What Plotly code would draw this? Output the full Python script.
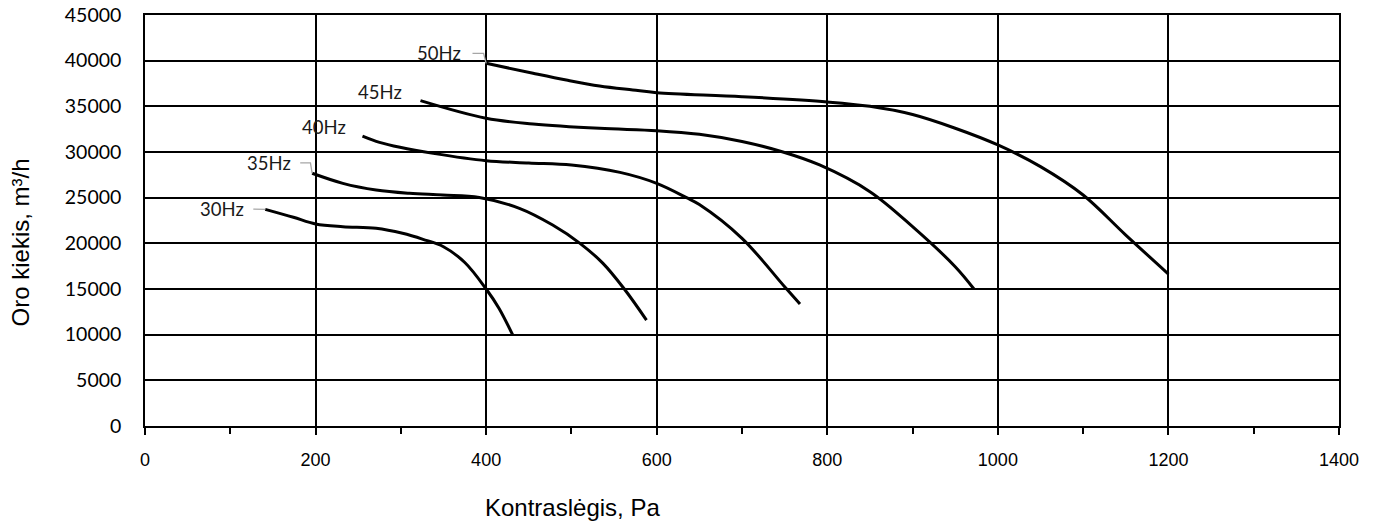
import plotly.graph_objects as go

# Data
hz30_x = [141, 174, 200, 232, 271, 302, 326, 350, 375, 400, 415, 431]
hz30_y = [23720, 22850, 22120, 21820, 21650, 21100, 20440, 19630, 17900, 15000, 12900, 10000]

hz35_x = [196, 232, 271, 310, 349, 392, 439, 478, 510, 537, 562, 588]
hz35_y = [27670, 26570, 25840, 25480, 25290, 25020, 23830, 22000, 20000, 17810, 15000, 11600]

hz40_x = [255, 275, 299, 338, 400, 450, 500, 557, 600, 635, 650, 700, 750, 768]
hz40_y = [31750, 31060, 30510, 29850, 29050, 28800, 28580, 27770, 26570, 25000, 24250, 20550, 15250, 13360]

hz45_x = [323, 400, 455, 533, 600, 650, 700, 748, 791, 850, 900, 950, 972]
hz45_y = [35620, 33690, 33070, 32590, 32340, 31940, 31150, 30000, 28580, 25660, 21830, 17440, 15000]

hz50_x = [400, 455, 494, 533, 572, 600, 700, 800, 850, 900, 950, 1000, 1050, 1100, 1150, 1200]
hz50_y = [39710, 38620, 37880, 37230, 36790, 36500, 36060, 35480, 35000, 34100, 32600, 30770, 28400, 25290, 20900, 16640]

series_names = ["30Hz", "35Hz", "40Hz", "45Hz", "50Hz"]
series = [(hz30_x, hz30_y), (hz35_x, hz35_y), (hz40_x, hz40_y), (hz45_x, hz45_y), (hz50_x, hz50_y)]

x_ticks = [0, 200, 400, 600, 800, 1000, 1200, 1400]
y_ticks = [0, 5000, 10000, 15000, 20000, 25000, 30000, 35000, 40000, 45000]

fig = go.Figure()
for name, (xs, ys) in zip(series_names, series):
    fig.add_trace(go.Scatter(x=xs, y=ys, mode="lines", name=name,
                             line=dict(color="black", width=3, shape="spline", smoothing=1.0)))

label_font = dict(family="Lato, Noto Sans, sans-serif", size=18.5, color="#1a1a1a")

# Curve labels (positions in data units)
labels = [
    ("30Hz", 118, 23800, "right"),
    ("35Hz", 173, 28800, "right"),
    ("40Hz", 210, 32740, "center"),
    ("45Hz", 275, 36600, "center"),
    ("50Hz", 373, 40800, "right"),
]
for txt, lx, ly, anch in labels:
    fig.add_annotation(x=lx, y=ly, xref="x", yref="y", text=txt, showarrow=False,
                       xanchor=anch, yanchor="middle", font=label_font)

# Leader lines
leader_col = "#a6a6a6"
fig.add_shape(type="path", xref="x", yref="y", path="M 384 40800 L 397 40800 L 400 39710",
              line=dict(color=leader_col, width=1.3))
fig.add_shape(type="path", xref="x", yref="y", path="M 182 28800 L 194 28800 L 196 27670",
              line=dict(color=leader_col, width=1.3))
fig.add_shape(type="path", xref="x", yref="y", path="M 127 23740 L 141 23720",
              line=dict(color=leader_col, width=1.3))

# Axis titles
title_font = dict(family="Liberation Sans, Arial, sans-serif", size=24, color="black")
fig.add_annotation(x=0.358, y=-0.1995, xref="paper", yref="paper", text="Kontraslėgis, Pa",
                   showarrow=False, xanchor="center", yanchor="middle", font=title_font)
fig.add_annotation(x=-0.1035, y=0.4477, xref="paper", yref="paper", text="Oro kiekis, m³/h",
                   showarrow=False, xanchor="center", yanchor="middle", textangle=-90,
                   font=title_font)

fig.update_layout(
    width=1376, height=526,
    margin=dict(l=145, r=37, t=15, b=100, autoexpand=False),
    paper_bgcolor="white", plot_bgcolor="white",
    showlegend=False,
    xaxis=dict(range=[0, 1400], tickvals=x_ticks, ticktext=[str(v) for v in x_ticks],
               automargin=False, ticklabeloverflow="allow",
               showgrid=True, gridcolor="black", gridwidth=1.5,
               showline=True, linecolor="black", linewidth=1.5, mirror=True,
               ticks="outside", ticklen=7, tickcolor="black", tickwidth=1.5,
               minor=dict(dtick=100, tick0=0, ticks="outside", ticklen=6, tickcolor="black",
                          tickwidth=1.5, showgrid=False),
               zeroline=False, ticklabelstandoff=10,
               tickfont=dict(family="Liberation Sans, Arial, sans-serif", size=18, color="black")),
    yaxis=dict(range=[0, 45000], tickvals=y_ticks, ticktext=[str(v) for v in y_ticks],
               automargin=False, ticklabeloverflow="allow",
               showgrid=True, gridcolor="black", gridwidth=1.5,
               showline=True, linecolor="black", linewidth=1.5, mirror=True,
               ticks="", zeroline=False, ticklabelstandoff=18,
               tickfont=dict(family="Lato, Noto Sans, sans-serif", size=19.5, color="black")),
)

fig.write_html("out.html", config={"displayModeBar": False},
               post_script="document.body.style.margin='0';document.body.style.overflow='hidden';")
